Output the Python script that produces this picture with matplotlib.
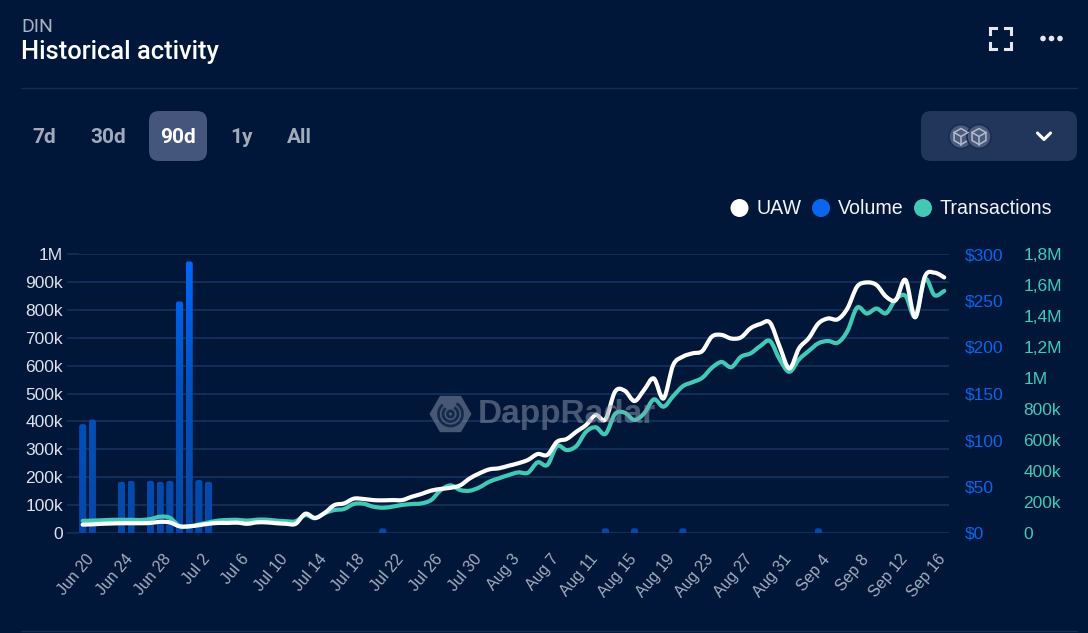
import numpy as np
import pandas as pd
import matplotlib
matplotlib.use("Agg")
import matplotlib.pyplot as plt
from matplotlib.colors import LinearSegmentedColormap
from matplotlib.patches import Circle, FancyBboxPatch, RegularPolygon, Arc, PathPatch
from matplotlib.path import Path
from matplotlib.transforms import ScaledTranslation

# daily values
dates = pd.date_range("2024-06-20", periods=90)

uaw = [30, 31, 33, 34, 35, 35, 35, 36, 40, 38, 24, 24, 28, 33, 36, 36, 37, 33, 38, 38,
       35, 33, 33, 69, 54, 72, 100, 106, 123, 122, 118, 117, 118, 118, 130, 140, 152, 158, 162, 171,
       196, 214, 228, 232, 241, 250, 262, 283, 280, 327, 337, 363, 387, 423, 407, 507, 510, 473, 513, 554,
       482, 602, 632, 644, 652, 704, 710, 697, 701, 734, 749, 754, 668, 590, 662, 698, 751, 769, 766, 805,
       883, 898, 889, 847, 835, 907, 773, 919, 933, 916]

transactions = [78, 80, 82, 85, 85, 85, 84, 90, 105, 98, 45, 42, 55, 68, 80, 84, 85, 80, 86, 86,
                80, 76, 76, 115, 95, 128, 148, 155, 187, 189, 170, 163, 170, 181, 187, 191, 213, 277, 307, 277,
                273, 295, 331, 353, 374, 391, 389, 456, 439, 561, 535, 561, 653, 682, 639, 768, 776, 729, 772, 862,
                815, 883, 947, 973, 1001, 1066, 1103, 1070, 1137, 1159, 1206, 1239, 1120, 1040, 1120, 1174, 1224, 1239, 1228, 1303,
                1454, 1416, 1448, 1418, 1508, 1530, 1396, 1638, 1534, 1562]

volume_days = [0, 1, 4, 5, 7, 8, 9, 10, 11, 12, 13, 31, 54, 57, 62, 76]
volume = [117, 122, 55, 56, 56, 55, 56, 249, 292, 57, 55, 5, 5, 5, 5, 5]

left_ticks = [0, 100, 200, 300, 400, 500, 600, 700, 800, 900, 1000]
left_labels = ["0", "100k", "200k", "300k", "400k", "500k", "600k", "700k", "800k", "900k", "1M"]
vol_ticks = [0, 50, 100, 150, 200, 250, 300]
vol_labels = ["$0", "$50", "$100", "$150", "$200", "$250", "$300"]
tx_ticks = [0, 200, 400, 600, 800, 1000, 1200, 1400, 1600, 1800]
tx_labels = ["0", "200k", "400k", "600k", "800k", "1M", "1,2M", "1,4M", "1,6M", "1,8M"]
range_buttons = ["7d", "30d", "90d", "1y", "All"]

BG = "#01173A"
GRID = "#14305A"
GRID_DARK = "#061430"
BLUE = "#0A66E8"
TEAL = "#42C9B6"

plt.rcParams["font.family"] = ["Liberation Sans", "DejaVu Sans"]


def smooth_line(a, xs, ys, color):
    # the site draws its lines as curves, so go through each day with a cubic segment
    xs = np.asarray(xs, float)
    ys = np.asarray(ys, float)
    verts = [(xs[0], ys[0])]
    for i in range(len(xs) - 1):
        before = max(i - 1, 0)
        after = min(i + 2, len(xs) - 1)
        verts.append((xs[i] + (xs[i + 1] - xs[before]) / 6, ys[i] + (ys[i + 1] - ys[before]) / 6))
        verts.append((xs[i + 1] - (xs[after] - xs[i]) / 6, ys[i + 1] - (ys[after] - ys[i]) / 6))
        verts.append((xs[i + 1], ys[i + 1]))
    codes = [Path.MOVETO] + [Path.CURVE4] * (len(verts) - 1)
    a.add_patch(PathPatch(Path(verts, codes), fc="none", ec=color, lw=3, capstyle="round", joinstyle="round"))


W, H = 1088, 633
fig = plt.figure(figsize=(W / 100, H / 100), dpi=100, facecolor=BG)

# plot area in pixels
x0, x1, y_top, y_bot = 79, 949, 254, 533
rect = [x0 / W, 1 - y_bot / H, (x1 - x0) / W, (y_bot - y_top) / H]
days = np.arange(len(dates))
day_px = 9.68
xlim = ((x0 - 82.7) / day_px, (x1 - 82.7) / day_px)

ax = fig.add_axes(rect, facecolor=BG)
ax_vol = ax.twinx()
ax_tx = ax.twinx()
ax_uaw = ax.twinx()
ax.set_zorder(0)
ax_vol.set_zorder(1)
ax_tx.set_zorder(2)
ax_uaw.set_zorder(3)
for a in (ax_vol, ax_tx, ax_uaw):
    a.patch.set_visible(False)
for a in (ax, ax_vol, ax_tx, ax_uaw):
    a.set_xlim(xlim)
    for s in a.spines.values():
        s.set_visible(False)

ax.set_ylim(0, 1000)
ax_uaw.set_ylim(0, 1000)
ax_vol.set_ylim(0, 300)
ax_tx.set_ylim(0, 1800)
ax_uaw.set_yticks([])

# grid: the side axes give the faint dark lines
ax.hlines(np.array(vol_ticks) / 0.3, xlim[0], xlim[1], color=GRID_DARK, lw=1.2, zorder=1)
ax.hlines(np.array(tx_ticks) / 1.8, xlim[0], xlim[1], color=GRID_DARK, lw=1.2, zorder=1)
ax.hlines(left_ticks, xlim[0], xlim[1], color=GRID, lw=1.3, zorder=2)
ax.axvline(xlim[0], color=GRID_DARK, lw=1.2, zorder=1)

ax.set_yticks(left_ticks, left_labels, fontsize=12.5, color="#DDE2EA")
ax.tick_params(axis="y", length=8.5, width=1.2, color=GRID, pad=3)
ax.set_xticks(days[::4], [f"{d:%b} {d.day}" for d in dates[::4]], rotation=50, ha="right",
              rotation_mode="anchor", fontsize=11.5, color="#A4AEBE")
ax.tick_params(axis="x", length=0, pad=13.5)
shift = ScaledTranslation(3 / 100, 0, fig.dpi_scale_trans)
for lab in ax.get_xticklabels():
    lab.set_transform(lab.get_transform() + shift)

ax_vol.set_yticks(vol_ticks, vol_labels, fontsize=12.5, color=BLUE)
ax_vol.tick_params(axis="y", length=9, width=1.2, color=GRID_DARK, pad=2.7)

ax_tx.spines["right"].set_position(("outward", 43))
ax_tx.set_yticks(tx_ticks, tx_labels, fontsize=12.5, color=TEAL)
ax_tx.tick_params(axis="y", length=8.5, width=1.2, color=GRID_DARK, pad=2)

# volume bars: rounded tops and one gradient over the height
cmap = LinearSegmentedColormap.from_list("vol", ["#0748A8", "#0050BC", "#0069FF"])
grad = np.linspace(1, 0, 256).reshape(-1, 1)
bar_w = 0.74
for d, v in zip(volume_days, volume):
    box = FancyBboxPatch((d - bar_w / 2, -12), bar_w, v + 12,
                         boxstyle="round,pad=0,rounding_size=0.25", mutation_aspect=10.4,
                         fc="none", ec="none")
    ax_vol.add_patch(box)
    im = ax_vol.imshow(grad[int((1 - v / 300) * 255):], extent=(d - bar_w / 2, d + bar_w / 2, 0, v),
                       cmap=cmap, vmin=0, vmax=1, aspect="auto", interpolation="bilinear")
    im.set_clip_path(box)
ax_vol.set_xlim(xlim)
ax_vol.set_ylim(0, 300)

smooth_line(ax_tx, days, transactions, TEAL)
smooth_line(ax_uaw, days, uaw, "white")

# everything around the chart, in pixel coordinates
ui = fig.add_axes([0, 0, 1, 1], zorder=10)
ui.set_xlim(0, W)
ui.set_ylim(H, 0)
ui.axis("off")
ui.patch.set_visible(False)

ui.text(21, 27.5, "DIN", fontsize=14, color="#A9B2C2", family="Roboto", va="center")
ui.text(21, 52.5, "Historical activity", fontsize=18.4, color="white", family="Roboto", weight="medium", va="center")
ui.plot([21, 1077], [87.5, 87.5], color="#172C50", lw=1)
ui.plot([21, 1077], [630.5, 630.5], color="#172C50", lw=1)

ui.add_patch(FancyBboxPatch((149, 111), 58, 50, boxstyle="round,pad=0,rounding_size=10", fc="#44567C", ec="none"))
for label, cx in zip(range_buttons, [44, 108, 178, 241, 299]):
    col = "white" if label == "90d" else "#A0AABB"
    ui.text(cx, 137.5, label, fontsize=15, color=col, family="Roboto", weight="bold", ha="center", va="center")

# dropdown with the two chain icons
ui.add_patch(FancyBboxPatch((921, 111), 156, 50, boxstyle="round,pad=0,rounding_size=10", fc="#22355A", ec="none"))
for cx in (961, 979):
    ui.add_patch(Circle((cx, 136.5), 12, fc="#4A5B7E", ec="#1A2C50", lw=1.2))
    ui.add_patch(RegularPolygon((cx, 136.5), 6, radius=8, fc="none", ec="#B4BCCA", lw=1.1))
    ui.plot([cx - 6.9, cx, cx + 6.9], [132.5, 136.5, 132.5], color="#B4BCCA", lw=1.1)
    ui.plot([cx, cx], [136.5, 144.5], color="#B4BCCA", lw=1.1)
ui.plot([1037.5, 1044, 1050.5], [133, 139.5, 133], color="white", lw=2.2, solid_capstyle="round", solid_joinstyle="round")

# fullscreen and menu icons
for cx, cy, sx, sy in [(990, 28, 1, 1), (1011, 28, -1, 1), (990, 49, 1, -1), (1011, 49, -1, -1)]:
    ui.plot([cx, cx, cx + 6 * sx], [cy + 6 * sy, cy, cy], color="#E4E8EE", lw=2.2, solid_joinstyle="miter")
for cx in (1043, 1051.5, 1060):
    ui.add_patch(Circle((cx, 38.5), 2.8, fc="#E4E8EE", ec="none"))

# legend
for cx, col, label, tx in [(739.5, "white", "UAW", 756), (821, "#0A66F0", "Volume", 838), (923, TEAL, "Transactions", 939)]:
    ui.add_patch(Circle((cx, 208), 9, fc=col, ec="none"))
    ui.text(tx, 208, label, fontsize=14.1, color="#F2F4F7", va="center")

# watermark
wm = "#8C99AE"
ui.add_patch(RegularPolygon((450.5, 414), 6, radius=21, orientation=np.pi / 2, fc=wm, ec="none", alpha=0.5))
for d in (24, 15, 6):
    ui.add_patch(Arc((450.5, 414), d, d, theta1=-60 if d > 6 else 0, theta2=230 if d > 6 else 360, color="#01173A", lw=2, alpha=0.7))
ui.text(478, 414, "DappRadar", fontsize=24, weight="bold", color=wm, alpha=0.5, va="center")

fig.savefig("out.png", dpi=100, facecolor=BG)
